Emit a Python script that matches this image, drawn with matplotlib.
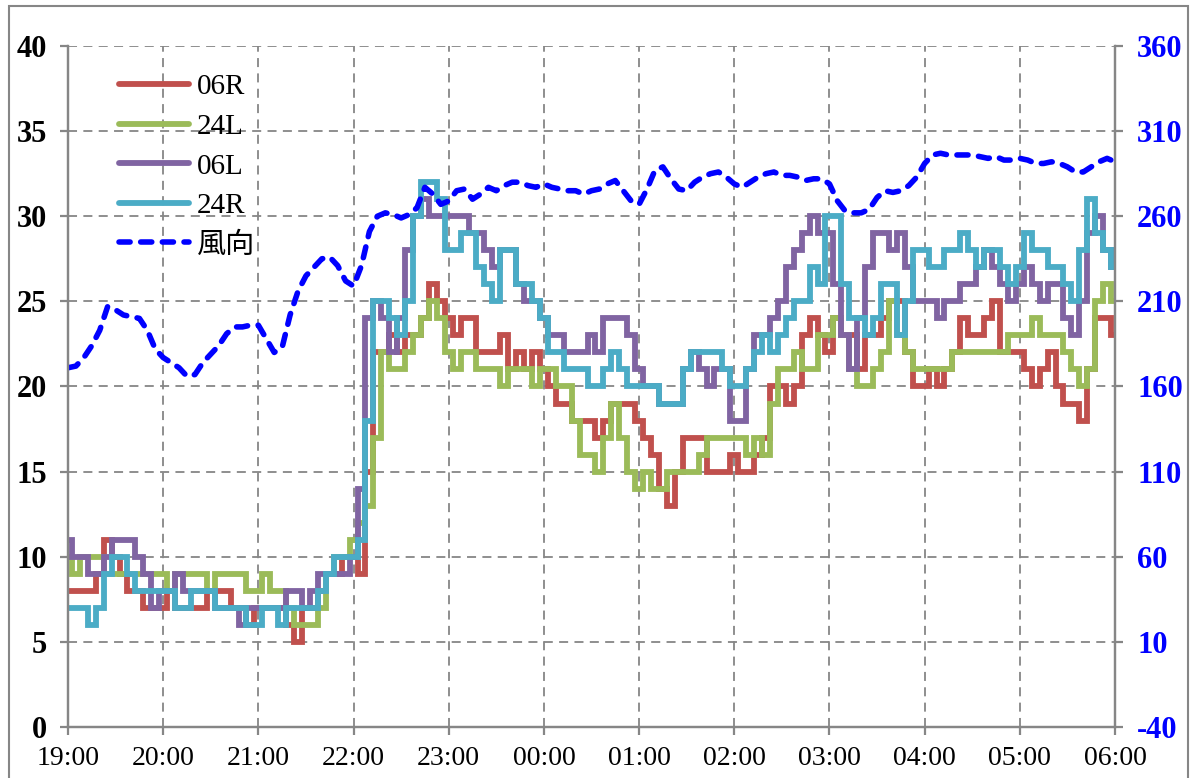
import matplotlib
matplotlib.use("Agg")
import matplotlib.pyplot as plt
import matplotlib.dates as mdates
from matplotlib.patches import Rectangle
import pandas as pd

plt.rcParams['font.family'] = ['Liberation Serif', 'Noto Sans CJK JP', 'DejaVu Sans']
plt.rcParams['axes.unicode_minus'] = False

# 5-minute samples, 19:00 -> 06:00
times = pd.date_range('2020-01-01 19:00', '2020-01-02 06:00', freq='5min')

# one row per hour (12 samples), the last row also has 06:00
r06R = (
    [8, 8, 8, 8, 9, 11, 10, 9, 8, 8, 7, 7] +
    [7, 8, 7, 7, 7, 7, 8, 8, 8, 7, 7, 6] +
    [7, 7, 7, 7, 6, 5, 7, 7, 8, 9, 9, 10] +
    [10, 9, 15, 22, 22, 23, 22, 23, 23, 24, 26, 25] +
    [24, 23, 24, 24, 22, 22, 22, 23, 21, 22, 21, 22] +
    [21, 20, 19, 19, 18, 18, 18, 17, 18, 19, 19, 19] +
    [18, 17, 16, 14, 13, 15, 17, 17, 17, 15, 15, 15] +
    [16, 15, 15, 16, 17, 20, 20, 19, 20, 23, 24, 23] +
    [22, 24, 23, 23, 21, 23, 23, 24, 25, 25, 22, 20] +
    [20, 21, 20, 21, 22, 24, 23, 23, 24, 25, 22, 22] +
    [22, 21, 20, 21, 22, 20, 19, 19, 18, 21, 24, 24, 23]
)
r24L = (
    [10, 9, 10, 10, 10, 9, 9, 9, 9, 9, 9, 9] +
    [9, 8, 9, 9, 9, 9, 8, 9, 9, 9, 9, 8] +
    [8, 9, 8, 8, 7, 6, 6, 6, 7, 9, 10, 10] +
    [11, 12, 13, 17, 22, 21, 21, 22, 23, 24, 25, 24] +
    [22, 21, 22, 22, 21, 21, 21, 20, 21, 21, 21, 20] +
    [21, 21, 20, 20, 18, 16, 16, 15, 17, 19, 17, 15] +
    [14, 15, 14, 14, 15, 15, 15, 15, 16, 17, 17, 17] +
    [17, 17, 16, 17, 16, 19, 21, 21, 22, 21, 21, 23] +
    [23, 24, 23, 21, 20, 20, 21, 22, 25, 23, 22, 21] +
    [21, 21, 21, 21, 22, 22, 22, 22, 22, 22, 22, 23] +
    [23, 23, 24, 23, 23, 23, 22, 21, 20, 21, 25, 26, 25]
)
r06L = (
    [11, 10, 10, 9, 9, 10, 11, 11, 11, 10, 9, 7] +
    [8, 8, 9, 8, 8, 8, 8, 7, 7, 7, 6, 7] +
    [7, 7, 7, 7, 8, 8, 7, 8, 9, 9, 9, 9] +
    [10, 14, 24, 25, 24, 22, 24, 28, 30, 31, 30, 30] +
    [30, 30, 30, 29, 29, 28, 27, 28, 28, 26, 25, 25] +
    [24, 23, 23, 22, 22, 22, 23, 22, 24, 24, 24, 23] +
    [21, 20, 20, 19, 19, 19, 21, 22, 21, 20, 21, 21] +
    [18, 18, 21, 23, 23, 24, 25, 27, 28, 29, 30, 29] +
    [29, 26, 23, 21, 24, 27, 29, 29, 28, 29, 27, 25] +
    [25, 25, 24, 25, 25, 26, 26, 27, 28, 27, 26, 25] +
    [26, 27, 26, 25, 26, 26, 24, 23, 25, 29, 30, 28, 27]
)
r24R = (
    [7, 7, 7, 6, 7, 9, 10, 10, 9, 8, 8, 8] +
    [8, 8, 7, 7, 8, 8, 8, 7, 7, 7, 7, 6] +
    [6, 7, 7, 6, 7, 7, 7, 7, 8, 9, 10, 10] +
    [10, 11, 18, 25, 25, 24, 23, 25, 30, 32, 32, 31] +
    [28, 28, 29, 29, 27, 26, 25, 28, 28, 26, 26, 25] +
    [24, 22, 22, 21, 21, 21, 20, 20, 21, 22, 21, 20] +
    [20, 20, 20, 19, 19, 19, 21, 22, 22, 22, 22, 21] +
    [20, 20, 21, 22, 23, 22, 23, 24, 25, 25, 27, 26] +
    [30, 30, 26, 24, 24, 23, 24, 26, 26, 23, 25, 28] +
    [28, 27, 27, 28, 28, 29, 28, 27, 28, 28, 27, 26] +
    [27, 29, 28, 28, 27, 27, 26, 25, 28, 31, 29, 28, 27]
)
wind = (
    [171, 172, 177, 184, 193, 207, 205, 202, 201, 200, 193, 182] +
    [177, 174, 171, 166, 167, 174, 179, 184, 191, 195, 195, 196] +
    [196, 188, 180, 183, 202, 216, 225, 230, 235, 236, 231, 222] +
    [219, 231, 251, 260, 262, 261, 259, 261, 265, 277, 273, 267] +
    [269, 275, 276, 270, 273, 277, 275, 278, 280, 280, 278, 277] +
    [279, 277, 276, 275, 275, 273, 275, 276, 279, 281, 275, 269] +
    [267, 276, 287, 289, 282, 276, 275, 280, 283, 285, 286, 283] +
    [279, 277, 280, 283, 285, 286, 284, 284, 283, 281, 282, 282] +
    [279, 269, 263, 262, 262, 264, 271, 275, 274, 275, 278, 283] +
    [291, 296, 297, 296, 296, 296, 296, 295, 294, 295, 293, 293] +
    [294, 293, 291, 291, 292, 291, 289, 286, 286, 289, 292, 294, 292]
)

series = [("06R", r06R, "#C0504D"), ("24L", r24L, "#9BBB59"),
          ("06L", r06L, "#8064A2"), ("24R", r24R, "#4BACC6")]

grey = "#868686"

fig = plt.figure(figsize=(11.94, 7.78), dpi=100)
ax = fig.add_axes([68/1194, 1 - 727/778, (1115-68)/1194, (727-46)/778])
ax2 = ax.twinx()

handles = []
for name, vals, col in series:
    h, = ax.plot(times, vals, color=col, lw=4.2, label=name, drawstyle='steps-mid',
                 solid_joinstyle='miter', solid_capstyle='round')
    handles.append(h)

hw, = ax2.plot(times, wind, color="#0000FF", lw=4.0, label="風向",
               linestyle=(0, (2.0, 1.9)), dash_capstyle='round')
handles.append(hw)

ax.set_xlim(times[0], times[-1])
ax.set_ylim(0, 40)
ax.set_yticks(range(0, 41, 5))
ax2.set_ylim(-40, 360)
ax2.set_yticks(range(-40, 361, 50))

ax.xaxis.set_major_locator(mdates.HourLocator())
ax.xaxis.set_major_formatter(mdates.DateFormatter('%H:%M'))

ax.set_axisbelow(True)
ax.grid(True, color=grey, linestyle=(0, (5, 3.5)), lw=1.3)

for a in (ax, ax2):
    for s in a.spines.values():
        s.set_color(grey)
        s.set_linewidth(1.6)
    a.spines['top'].set_visible(False)
    a.tick_params(color=grey, width=1.6, length=6)

ax.tick_params(axis='x', labelsize=20, pad=8)
ax.tick_params(axis='y', labelsize=22, pad=9)
ax2.tick_params(axis='y', labelsize=22, pad=10, labelcolor="#0000FF")
for lab in ax.get_yticklabels():
    lab.set_fontweight('bold')
for lab in ax2.get_yticklabels():
    lab.set_fontweight('bold')

ax.legend(handles=handles, loc='upper left', bbox_to_anchor=(0.038, 0.976),
          frameon=False, fontsize=21, handlelength=2.4, handletextpad=0.25,
          labelspacing=0.45, borderaxespad=0)

fig.patches.append(Rectangle((9/1194, -0.05), (1188-9)/1194, 1.05 - 6/778,
                             transform=fig.transFigure, fill=False,
                             edgecolor=grey, lw=1.5))

fig.savefig("out.png", dpi=100)
